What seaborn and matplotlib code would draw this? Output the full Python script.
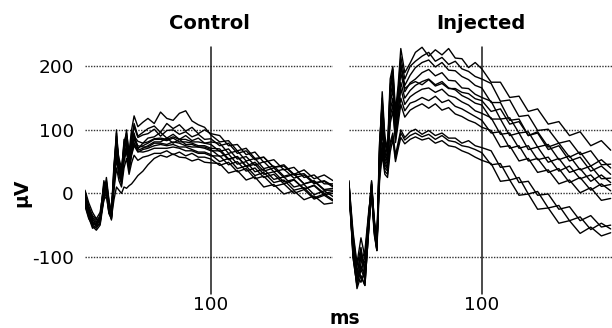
import numpy as np
import pandas as pd
import matplotlib
matplotlib.use("Agg")
import matplotlib.pyplot as plt
import seaborn as sns

# sample times (ms)
t_ms = [0, 3, 6, 9, 12, 15, 17, 19, 21, 23, 25, 27, 29, 31, 33, 35, 37, 39, 42, 46,
        50, 55, 60, 65, 70, 75, 80, 85, 90, 95, 100, 107, 114, 121, 128, 135, 142, 150,
        158, 166, 174, 182, 190, 197]

# control traces (uV)
control = [
    [5, -15, -30, -40, -30, 10, 5, -20, -30, 40, 85, 50, 35, 80, 95, 65, 100, 122, 105, 112,
     118, 110, 128, 118, 115, 126, 130, 114, 108, 104, 92, 81, 83, 67, 71, 55, 57, 41, 43, 29, 31, 17, 19, 10],
    [0, -20, -38, -45, -35, 15, 8, -25, -35, 30, 95, 45, 30, 70, 100, 55, 85, 110, 90, 96,
     102, 106, 96, 110, 102, 108, 98, 104, 94, 100, 94, 91, 75, 77, 61, 65, 49, 53, 37, 41, 25, 29, 15, 15],
    [-5, -25, -40, -50, -42, 5, 12, -20, -32, 25, 80, 55, 40, 75, 90, 60, 80, 105, 88, 92,
     94, 101, 90, 99, 100, 93, 97, 89, 93, 85, 86, 75, 79, 63, 67, 53, 57, 41, 45, 30, 37, 23, 29, 20],
    [-8, -28, -45, -52, -48, 0, 20, -15, -38, 35, 100, 40, 25, 85, 80, 50, 95, 90, 82, 79,
     87, 89, 96, 87, 93, 85, 91, 83, 87, 79, 81, 79, 63, 67, 51, 55, 39, 43, 27, 31, 15, 19, 5, 5],
    [-12, -30, -50, -55, -45, -5, 25, -10, -30, 45, 90, 35, 20, 65, 85, 45, 75, 95, 70, 79,
     81, 86, 87, 85, 89, 85, 85, 81, 81, 79, 77, 66, 70, 54, 58, 44, 50, 34, 38, 24, 29, 15, 20, 12],
    [-10, -32, -48, -50, -40, 8, 15, -22, -40, 20, 70, 40, 28, 60, 75, 42, 70, 85, 72, 75,
     79, 85, 85, 83, 87, 81, 81, 79, 75, 75, 71, 70, 54, 58, 42, 46, 30, 34, 18, 22, 7, 12, -2, 0],
    [-15, -35, -52, -58, -50, -10, 10, -28, -42, 15, 65, 30, 18, 55, 70, 38, 65, 80, 68, 71,
     75, 81, 81, 87, 79, 85, 77, 77, 73, 73, 69, 58, 62, 46, 50, 34, 38, 22, 26, 10, 14, -2, 4, -5],
    [-3, -22, -35, -42, -38, 20, 5, -18, -28, 30, 75, 45, 32, 70, 82, 50, 72, 88, 75, 73,
     73, 79, 79, 77, 81, 79, 75, 73, 73, 71, 67, 67, 53, 58, 43, 49, 35, 40, 25, 30, 15, 20, 6, 8],
    [-18, -38, -55, -50, -35, -2, 8, -30, -36, 10, 55, 28, 15, 50, 68, 35, 60, 75, 65, 69,
     71, 75, 77, 75, 77, 73, 73, 69, 65, 65, 61, 50, 55, 39, 43, 28, 33, 17, 21, 5, 9, -7, -1, -10],
    [-6, -26, -42, -46, -44, 12, 18, -12, -30, 25, 60, 35, 22, 58, 72, 40, 62, 78, 66, 65,
     67, 71, 71, 71, 73, 71, 67, 67, 63, 63, 59, 59, 45, 50, 35, 40, 25, 30, 15, 21, 7, 13, 0, 3],
    [-20, -40, -50, -48, -38, -8, 0, -32, -40, 5, 40, 20, 10, 40, 55, 30, 48, 60, 52, 57,
     59, 63, 63, 67, 61, 65, 59, 63, 57, 57, 54, 44, 49, 34, 39, 23, 27, 11, 15, 0, 6, -9, -3, -12],
    [-10, -30, -45, -50, -42, -10, -5, -30, -38, -10, 10, 5, 0, 10, 8, 12, 15, 20, 28, 35,
     45, 55, 60, 57, 62, 57, 56, 51, 54, 49, 48, 47, 32, 36, 21, 26, 10, 14, -1, 4, -10, -4, -17, -15],
]

# injected traces (uV)
injected = [
    [15, -60, -110, -70, -100, -30, 15, -50, -80, 70, 160, 90, 70, 180, 200, 130, 170, 228, 190, 205,
     222, 230, 216, 226, 218, 228, 213, 212, 198, 206, 196, 175, 175, 151, 153, 129, 133, 109, 113, 91, 97, 75, 83, 68],
    [10, -80, -130, -90, -120, -40, 10, -55, -85, 60, 150, 80, 60, 170, 195, 120, 160, 215, 180, 200,
     208, 216, 222, 208, 214, 203, 208, 196, 192, 184, 180, 173, 145, 147, 121, 123, 99, 101, 79, 83, 61, 67, 45, 46],
    [5, -90, -140, -100, -110, -35, 20, -45, -75, 80, 140, 70, 55, 160, 190, 110, 150, 205, 170, 186,
     198, 206, 210, 199, 206, 194, 193, 184, 179, 170, 166, 143, 143, 115, 117, 91, 95, 69, 75, 51, 57, 35, 43, 30],
    [20, -100, -145, -110, -90, -25, 5, -60, -90, 50, 130, 60, 50, 150, 175, 100, 145, 190, 160, 174,
     180, 190, 195, 185, 190, 178, 177, 166, 165, 156, 151, 145, 117, 119, 95, 97, 73, 77, 53, 59, 37, 43, 23, 24],
    [0, -70, -120, -130, -145, -50, 0, -65, -90, 45, 120, 55, 45, 140, 165, 95, 130, 175, 150, 162,
     170, 176, 180, 171, 176, 166, 163, 154, 149, 142, 139, 117, 117, 91, 95, 69, 73, 49, 55, 33, 39, 19, 29, 17],
    [12, -85, -135, -115, -130, -45, 12, -40, -70, 55, 110, 50, 40, 130, 150, 90, 125, 165, 140, 152,
     158, 164, 166, 159, 164, 154, 151, 144, 139, 130, 126, 119, 93, 95, 71, 75, 53, 57, 35, 43, 23, 29, 11, 14],
    [8, -75, -125, -95, -140, -55, 8, -50, -80, 40, 100, 45, 38, 120, 140, 85, 118, 150, 130, 142,
     145, 151, 146, 153, 143, 147, 137, 133, 127, 121, 115, 95, 97, 71, 75, 51, 55, 33, 39, 17, 25, 5, 15, 4],
    [18, -95, -140, -120, -100, -30, 18, -45, -85, 65, 125, 65, 50, 110, 130, 80, 110, 140, 120, 131,
     136, 141, 134, 141, 131, 135, 125, 121, 115, 111, 104, 99, 73, 75, 51, 55, 33, 37, 15, 21, 1, 9, -11, -8],
    [14, -65, -115, -85, -125, -35, 14, -55, -88, 75, 145, 85, 65, 165, 185, 115, 155, 200, 165, 172,
     176, 171, 179, 169, 173, 165, 165, 159, 157, 149, 146, 129, 133, 109, 113, 91, 97, 73, 79, 57, 65, 43, 53, 40],
    [5, -80, -130, -140, -120, -40, 5, -55, -75, 30, 80, 40, 35, 80, 95, 60, 80, 100, 88, 97,
     101, 93, 99, 91, 95, 87, 87, 79, 83, 75, 72, 67, 41, 43, 17, 19, -3, -1, -25, -21, -43, -35, -53, -50],
    [10, -100, -145, -120, -135, -45, 10, -50, -80, 25, 70, 35, 30, 75, 90, 55, 75, 95, 84, 91,
     95, 89, 93, 85, 91, 83, 81, 75, 73, 69, 64, 45, 47, 21, 25, -1, 3, -23, -19, -43, -37, -57, -47, -56],
    [0, -90, -150, -130, -145, -50, 0, -60, -90, 20, 60, 30, 25, 65, 85, 50, 70, 88, 78, 85,
     89, 84, 87, 79, 83, 75, 73, 67, 63, 57, 52, 47, 19, 21, -3, -1, -25, -23, -47, -43, -63, -53, -67, -62],
]

y_ticks = [200, 100, 0, -100]
x_tick = 100


def to_long(traces):
    rows = []
    for k, tr in enumerate(traces):
        for t, v in zip(t_ms, tr):
            rows.append((k, t, v))
    return pd.DataFrame(rows, columns=["trace", "ms", "uV"])


sns.set_style("white")
plt.rcParams["font.family"] = ["DejaVu Sans"]
plt.rcParams["text.color"] = "black"

fig = plt.figure(figsize=(6.12, 3.28), dpi=100)
W, H = 612.0, 328.0
ax1 = fig.add_axes([85 / W, 33 / H, 248 / W, 249 / H])
ax2 = fig.add_axes([349 / W, 33 / H, 263 / W, 249 / H])

for ax, traces, title, xmax in [(ax1, control, "Control", 197), (ax2, injected, "Injected", 198)]:
    for yv in y_ticks:
        ax.axhline(yv, color="0.2", lw=1.0, ls=(0, (1, 1)), zorder=1)
    ax.axvline(x_tick, ymin=0.005, ymax=0.995, color="0.1", lw=1.1, zorder=2)
    sns.lineplot(data=to_long(traces), x="ms", y="uV", units="trace", estimator=None,
                 color="black", lw=1.0, ax=ax, zorder=3)
    ax.set_xlim(0, xmax)
    ax.set_ylim(-160, 232)
    ax.set_xlabel("")
    ax.set_ylabel("")
    ax.set_xticks([x_tick])
    ax.set_xticklabels([str(x_tick)], fontsize=13.3)
    ax.tick_params(axis="x", length=0, pad=1, colors="black")
    ax.set_title(title, fontsize=14, fontweight="bold", pad=12, color="black")
    for s in ax.spines.values():
        s.set_visible(False)

ax1.set_yticks(y_ticks)
ax1.set_yticklabels([str(v) for v in y_ticks], fontsize=13.3)
ax1.tick_params(axis="y", length=0, pad=8, colors="black")
ax2.set_yticks([])

fig.text(22 / W, 1 - 193 / H, "µV", rotation=90, ha="center", va="center",
         fontsize=13.5, fontweight="bold")
fig.text(345 / W, 1 - 318 / H, "ms", ha="center", va="center",
         fontsize=13.5, fontweight="bold")

fig.savefig("out.png", dpi=100)
